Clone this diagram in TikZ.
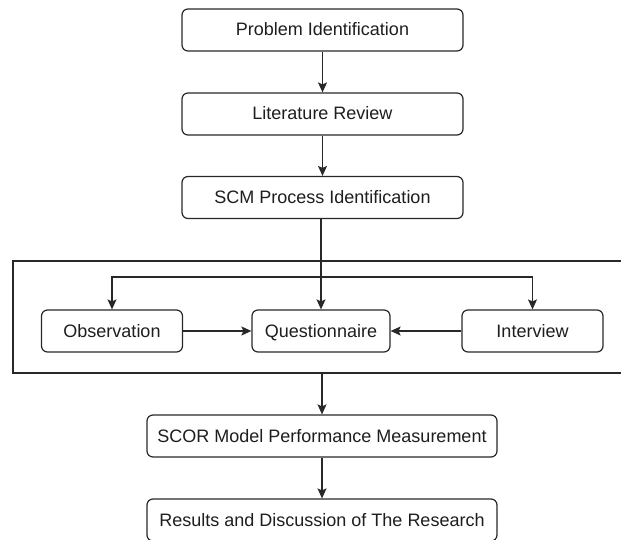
\documentclass[tikz,border=0pt]{standalone}
\usepackage{fontspec}
\setmainfont{Liberation Sans}
\usepackage{tikz}
\usetikzlibrary{arrows.meta,shapes,positioning}
\definecolor{dfline}{RGB}{40,40,40}
\definecolor{dftext}{RGB}{30,30,30}
\tikzstyle{arrow} = [line width=1.2pt,->,>={Stealth[length=10pt,width=9pt,inset=2pt]},color=dfline]
\tikzstyle{stepbox} = [rectangle, rounded corners=6pt, minimum height=42pt, text centered, draw=dfline, fill=white, line width=1.2pt, text=dftext, font=\fontsize{18}{20}\selectfont, inner sep=0pt, text height=14pt, text depth=2pt]
\tikzstyle{groupbox} = [rectangle, minimum width=610pt, minimum height=112pt, draw=dfline, line width=1.2pt, inner sep=0pt]

\begin{document}
\begin{tikzpicture}[x=1pt, y=-1pt]
\useasboundingbox (0,0) rectangle (621,540);
% Main steps
\node[stepbox, minimum width=281pt] (prob) at (322.5,30) {Problem Identification};
\node[stepbox, minimum width=281pt] (lit) at (322.5,114) {Literature Review};
\node[stepbox, minimum width=281pt] (scm) at (322.5,197.5) {SCM Process Identification};

% Data collection group
\node[groupbox] (grp) at (318,317) {};
\node[stepbox, minimum width=141pt] (obs) at (112,331) {Observation};
\node[stepbox, minimum width=138pt] (quest) at (321,331) {Questionnaire};
\node[stepbox, minimum width=141pt] (inter) at (532.5,331) {Interview};
\coordinate (split) at (321,277);

% Final steps
\node[stepbox, minimum width=350pt] (scor) at (322,436) {SCOR Model Performance Measurement};
\node[stepbox, minimum width=350pt] (res) at (322,520) {Results and Discussion of The Research};

% Arrows
\draw[arrow] (prob) -- (lit);
\draw[arrow] (lit) -- (scm);
\draw[arrow] (scm.south -| quest) -- (quest);
\draw[arrow] (split) -| (obs);
\draw[arrow] (split) -| (inter);
\draw[arrow] (obs) -- (quest);
\draw[arrow] (inter) -- (quest);
\draw[arrow] (scor.north |- grp.south) -- (scor);
\draw[arrow] (scor) -- (res);
\end{tikzpicture}
\end{document}
